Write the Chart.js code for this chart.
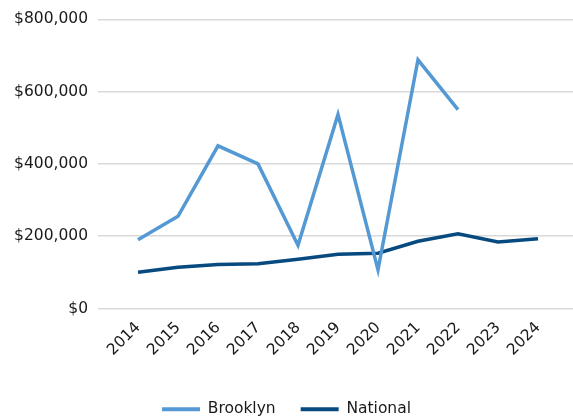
<!DOCTYPE html>
<html>
<head>
<meta charset="utf-8">
<script src="https://cdn.jsdelivr.net/npm/chart.js@4/dist/chart.umd.min.js"></script>
<style>
  html, body { margin: 0; padding: 0; background: #fff; }
  #wrap { width: 573px; height: 417px; }
</style>
</head>
<body>
<div id="wrap"><canvas id="chart" width="573" height="417"></canvas></div>
<script>
const years = [2014, 2015, 2016, 2017, 2018, 2019, 2020, 2021, 2022, 2023, 2024];
const brooklyn = [190000, 255000, 450000, 400000, 175000, 537000, 107000, 688000, 550000];
const national = [100000, 114000, 122000, 124000, 136000, 150000, 153000, 186000, 207000, 184000, 193000];
const yTicks = [0, 200000, 400000, 600000, 800000];

const toPoints = (vals) => vals.map((v, i) => ({ x: years[i], y: v }));
const money = (v) => "$" + v.toLocaleString("en-US");

Chart.defaults.font.family = "'DejaVu Sans', sans-serif";
Chart.defaults.font.size = 15.5;
Chart.defaults.color = "#1a1a1a";

const ctx = document.getElementById("chart").getContext("2d");
new Chart(ctx, {
  type: "line",
  data: {
    datasets: [
      {
        label: "Brooklyn",
        data: toPoints(brooklyn),
        borderColor: "#5499d3",
        backgroundColor: "#5499d3",
        borderWidth: 3.5,
        pointRadius: 0,
        tension: 0,
      },
      {
        label: "National",
        data: toPoints(national),
        borderColor: "#064a80",
        backgroundColor: "#064a80",
        borderWidth: 3.5,
        pointRadius: 0,
        tension: 0,
      },
    ],
  },
  options: {
    responsive: false,
    animation: false,
    layout: { padding: { top: 14.5, right: 0, bottom: -10, left: 0 } },
    plugins: {
      tooltip: { enabled: false },
      legend: {
        position: "bottom",
        labels: {
          boxWidth: 38,
          boxHeight: 4,
          padding: 25,
          font: { size: 15.5 },
          generateLabels: (chart) =>
            Chart.defaults.plugins.legend.labels.generateLabels(chart).map((l) => ({ ...l, lineWidth: 0 })),
        },
      },
    },
    scales: {
      x: {
        type: "linear",
        min: 2013,
        max: 2024.875,
        grid: { display: false },
        border: { display: false },
        afterBuildTicks: (scale) => { scale.ticks = years.map((y) => ({ value: y })); },
        afterFit: (scale) => { scale.height = 68; },
        ticks: {
          minRotation: 45,
          maxRotation: 45,
          autoSkip: false,
          padding: 2,
          callback: (v) => String(v),
        },
      },
      y: {
        min: 0,
        max: 800000,
        afterBuildTicks: (scale) => { scale.ticks = yTicks.map((v) => ({ value: v })); },
        afterFit: (scale) => { scale.width = 98; },
        grid: { color: "#d9d9d9", lineWidth: 1.5, drawTicks: false },
        border: { display: false },
        ticks: { padding: 10, callback: (v) => money(v) },
      },
    },
  },
});
</script>
</body>
</html>
